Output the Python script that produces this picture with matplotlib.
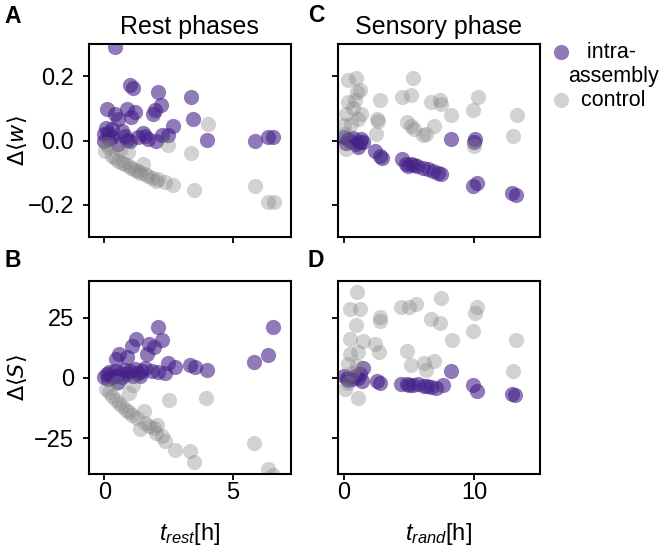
import numpy as np
import matplotlib
matplotlib.use("Agg")
import matplotlib.pyplot as plt
from matplotlib.lines import Line2D

plt.rcParams['font.family'] = ['Liberation Sans', 'DejaVu Sans']
plt.rcParams['mathtext.fontset'] = 'custom'
plt.rcParams['mathtext.rm'] = 'Liberation Sans'
plt.rcParams['mathtext.it'] = 'Liberation Sans:italic'

# panel A: rest phases, change of mean weight
a_intra_x = [0.42, 1.02, 1.1, 2.08, 3.38, 2.2, 1.97, 1.9, 0.09, 0.42, 0.87, 1.19, 0.55, 1.06,
             2.69, 3.47, 0.05, 0.3, 0.0, 1.52, 1.58, 2.23, 2.49, 3.99, 5.87, 6.39, 6.58, 0.0,
             0.2, 0.9, 1.0, 0.55, 0.3, 0.7, 1.3, 1.7, 0.15, 0.8, 2.0]
a_intra_y = [0.29, 0.172, 0.163, 0.15, 0.135, 0.11, 0.095, 0.084, 0.097, 0.084, 0.098, 0.089, 0.068, 0.074,
             0.045, 0.066, 0.04, 0.035, 0.02, 0.023, 0.015, 0.016, 0.016, 0.002, 0.0, 0.01, 0.01, 0.0,
             0.005, 0.002, -0.002, -0.01, 0.01, 0.03, 0.01, 0.005, 0.025, 0.015, 0.0]
a_ctrl_x = [0.03, 0.15, 0.29, 0.4, 0.55, 0.7, 0.8, 0.95, 1.06, 1.2, 1.32, 1.52, 1.58, 1.7, 1.84,
            2.1, 2.36, 2.69, 4.03, 2.49, 3.38, 3.51, 5.87, 6.39, 6.62, 0.94, 2.0, 1.4, 0.1, 0.6]
a_ctrl_y = [-0.032, -0.02, -0.047, -0.055, -0.063, -0.07, -0.074, -0.08, -0.084, -0.09, -0.095, -0.074,
            -0.105, -0.11, -0.116, -0.121, -0.13, -0.139, 0.053, -0.014, -0.039, -0.155, -0.142, -0.19,
            -0.19, -0.037, -0.125, -0.1, -0.01, -0.03]

# panel B: rest phases, change of mean strength
b_intra_x = [2.09, 6.58, 2.24, 1.22, 1.73, 1.92, 1.67, 1.09, 0.58, 0.45, 0.9, 2.47, 2.76, 3.33, 3.53,
             4.01, 5.83, 6.38, 2.1, 2.37, 1.86, 0.0, 0.1, 0.2, 0.3, 0.4, 0.5, 0.6, 0.7, 0.8, 0.9,
             1.0, 1.1, 1.2, 1.3, 1.45, 1.6, 0.15, 0.55, 1.4]
b_intra_y = [21.0, 21.0, 15.7, 16.2, 14.1, 12.7, 9.9, 13.4, 9.9, 7.8, 8.5, 6.0, 4.6, 5.4, 4.6,
             3.2, 6.8, 9.5, 2.6, 2.2, 2.9, 0.5, 1.5, 2.5, 0.2, 3.0, 1.0, 2.2, 0.5, 3.2, 1.5,
             2.8, 0.8, 3.5, 2.0, 3.0, 4.0, -0.5, -1.5, 1.0]
b_ctrl_x = [0.06, 0.2, 0.32, 0.45, 0.58, 0.7, 0.83, 0.95, 1.09, 1.28, 1.54, 1.6, 1.75, 1.92, 2.05,
            2.24, 2.37, 2.76, 2.5, 3.97, 3.33, 3.5, 5.81, 6.37, 6.58, 0.96, 1.1, 0.5, 1.4, 2.0]
b_ctrl_y = [-4.7, -6, -7.5, -9, -10.3, -11.5, -13.1, -14, -15.2, -16.6, -13.8, -18.7, -20, -20.8, -19.4,
            -24.2, -26.3, -29.8, -9.3, -8.5, -30.5, -34.7, -27.0, -37.7, -40.2, -6.1, -3, -2, -21, -23]

# panel C: sensory phase, change of mean weight
c_intra_x = [0.0, 0.31, 0.57, 0.96, 1.35, 1.48, 1.09, 0.15, 0.7, 1.2, 2.39, 2.78, 2.91, 4.47, 4.73,
             5.12, 5.38, 6.03, 6.42, 6.81, 7.19, 7.45, 8.23, 10.05, 10.0, 9.92, 10.18, 12.9, 13.17,
             4.9, 5.6]
c_intra_y = [0.01, 0.005, -0.005, -0.011, 0.005, -0.005, -0.021, -0.008, 0.008, -0.003, -0.032, -0.047,
             -0.053, -0.058, -0.074, -0.074, -0.077, -0.084, -0.087, -0.095, -0.1, -0.105, 0.005, 0.005,
             -0.005, -0.142, -0.132, -0.163, -0.168, -0.08, -0.08]
c_ctrl_x = [0.31, 0.96, 1.22, 0.31, 0.83, 0.18, 1.35, 1.09, 0.05, 0.57, 2.78, 2.52, 2.6, 2.47, 0.18,
            5.32, 4.47, 5.12, 6.68, 7.4, 7.45, 8.23, 10.26, 9.92, 13.3, 12.96, 4.86, 5.38, 6.03, 6.29,
            6.94, 5.12, 10.0, 0.1, 0.7, 1.0]
c_ctrl_y = [0.189, 0.195, 0.158, 0.121, 0.126, 0.084, 0.084, 0.068, 0.047, 0.053, 0.126, 0.068, 0.06,
            0.021, -0.026, 0.195, 0.137, 0.142, 0.119, 0.126, 0.113, 0.081, 0.134, 0.095, 0.079, 0.014,
            0.058, 0.037, 0.016, 0.021, 0.045, 0.045, -0.016, 0.02, 0.1, 0.15]

# panel D: sensory phase, change of mean strength
d_intra_x = [0.05, 0.21, 0.6, 1.11, 1.37, 1.5, 0.85, 0.3, 1.2, 2.54, 2.8, 4.35, 4.87, 5.26, 5.65,
             6.17, 6.68, 7.07, 7.59, 8.24, 9.92, 10.18, 12.9, 13.1, 5.0, 6.4]
d_intra_y = [0.8, 0.1, -0.6, 0.1, -1.3, 4.3, 0.8, -1.0, 1.5, -1.3, -1.9, -2.4, -2.4, -2.9, -2.6,
             -3.3, -3.8, -4.0, -2.9, 2.9, -2.9, -5.4, -6.8, -7.1, -3.0, -3.5]
d_ctrl_x = [0.98, 0.47, 1.24, 0.93, 2.8, 2.75, 4.35, 5.0, 5.52, 7.46, 6.68, 7.33, 8.29, 10.18, 10.05,
            9.92, 13.16, 12.95, 0.47, 1.5, 2.41, 2.67, 1.11, 0.47, 0.34, 0.98, 4.87, 5.13, 6.17, 6.3,
            6.94, 0.08, 1.11, 0.3, 0.6]
d_ctrl_y = [35.7, 28.7, 28.7, 22.1, 25.2, 23.8, 29.4, 29.4, 30.8, 33.3, 24.5, 22.7, 15.7, 29.4, 26.9,
            19.4, 15.7, 2.9, 16.2, 15.5, 14.1, 10.6, 10.6, 9.9, 5.7, 5.0, 11.0, 5.4, 6.0, 3.2,
            7.1, -4.7, -8.2, -2, 2]

purple = '#46218a'
grey = '#808080'

fig, axes = plt.subplots(2, 2, figsize=(6.63, 5.51), dpi=100, sharex='col', sharey='row')
fig.subplots_adjust(left=0.134, right=0.814, top=0.920, bottom=0.139, wspace=0.235, hspace=0.23)

panels = [(axes[0, 0], a_intra_x, a_intra_y, a_ctrl_x, a_ctrl_y),
          (axes[1, 0], b_intra_x, b_intra_y, b_ctrl_x, b_ctrl_y),
          (axes[0, 1], c_intra_x, c_intra_y, c_ctrl_x, c_ctrl_y),
          (axes[1, 1], d_intra_x, d_intra_y, d_ctrl_x, d_ctrl_y)]
handles = []
for ax, xi, yi, xc, yc in panels:
    hi = ax.scatter(xi, yi, s=120, color=purple, alpha=0.6, linewidths=0)
    hc = ax.scatter(xc, yc, s=120, color=grey, alpha=0.35, linewidths=0)
    handles = [hi, hc]
    for sp in ax.spines.values():
        sp.set_linewidth(1.5)
    ax.tick_params(labelsize=17, length=4.5, width=1.3)
    ax.tick_params(axis='y', pad=6)
    ax.tick_params(axis='x', pad=1)

axes[0, 0].set_xlim(-0.6, 7.25)
axes[0, 1].set_xlim(-0.45, 15)
axes[0, 0].set_ylim(-0.3, 0.3)
axes[1, 0].set_ylim(-40, 40)
axes[0, 0].set_xticks([0, 5])
axes[0, 1].set_xticks([0, 10])
axes[0, 0].set_yticks([-0.2, 0.0, 0.2])
axes[1, 0].set_yticks([-25, 0, 25])

axes[0, 0].set_title('Rest phases', fontsize=18, pad=7)
axes[0, 1].set_title('Sensory phase', fontsize=18, pad=7)
# ylabels in DejaVu math so the angle brackets keep normal metrics
axes[0, 0].set_ylabel(r'$\Delta\langle w\rangle$', fontsize=16, math_fontfamily='dejavusans')
axes[1, 0].set_ylabel(r'$\Delta\langle S\rangle$', fontsize=16, math_fontfamily='dejavusans')
for ax in axes[:, 0]:
    ax.yaxis.set_label_coords(-0.295, 0.5)
axes[1, 0].set_xlabel(r'$t_{rest}$[h]', fontsize=17, labelpad=12)
axes[1, 1].set_xlabel(r'$t_{rand}$[h]', fontsize=17, labelpad=12)

# legend: blank handle for the second line of the first label
blank = Line2D([], [], linestyle='none')
axes[0, 1].legend(handles=[handles[0], blank, handles[1]],
                  labels=['   intra-', 'assembly', '  control'],
                  loc='upper left', bbox_to_anchor=(553.5 / 663, 1 - 42 / 551),
                  bbox_transform=fig.transFigure, frameon=False, fontsize=15.5,
                  handlelength=0.7, handletextpad=0.0, labelspacing=0.14,
                  borderpad=0, borderaxespad=0)

for lab, x, y in [('A', 0.019, 0.970), ('C', 0.4766, 0.972), ('B', 0.019, 0.527), ('D', 0.4766, 0.527)]:
    fig.text(x, y, lab, fontsize=16.5, fontweight='bold', ha='center', va='center')

fig.savefig('out.png', dpi=100)
